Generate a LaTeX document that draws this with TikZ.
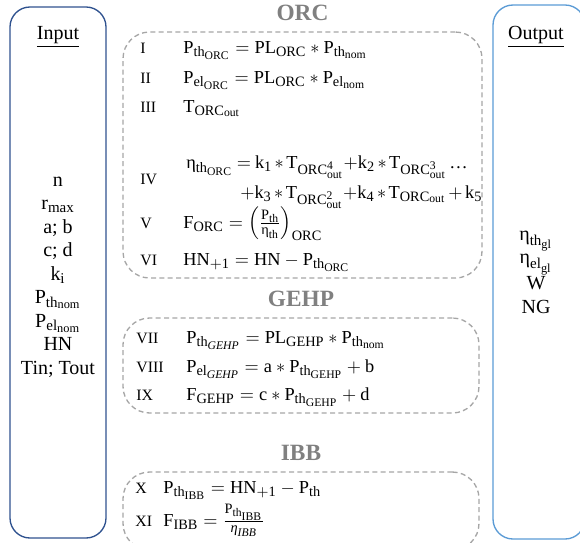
\documentclass[tikz,border=0pt]{standalone}
\usepackage{fontspec}
\setmainfont{Liberation Serif}
\usepackage{amsmath}
\usetikzlibrary{positioning, fit}
\definecolor{inputblue}{RGB}{47, 82, 143}
\definecolor{outputblue}{RGB}{91, 155, 213}
\definecolor{titlegray}{RGB}{128, 128, 128}
\definecolor{dashgray}{RGB}{166, 166, 166}
\DeclareMathSizes{11}{11}{8.6}{7}
\DeclareMathSizes{12}{12}{9}{7.4}
\newcommand{\etaup}{\text{η}}
\newcommand{\etait}{\textit{η}}

\begin{document}
\begin{tikzpicture}[
    x=0.6pt, y=-0.6pt,
    iobox/.style={
      draw, rounded corners=12pt, line width=0.8pt, inner sep=0pt
    },
    eqbox/.style={
      draw=dashgray, dash pattern=on 3pt off 2pt, rounded corners=16pt,
      line width=0.8pt, inner sep=0pt
    },
    title/.style={font=\fontsize{14}{16}\selectfont\bfseries, text=titlegray, inner sep=0pt},
    numeral/.style={anchor=base west, inner sep=0pt, font=\fontsize{9.5}{11}\selectfont},
    eqn/.style={anchor=base west, inner sep=0pt, font=\fontsize{11}{13}\selectfont},
    eqntight/.style={eqn, execute at begin node={\medmuskip=2.5mu\thickmuskip=4mu}},
    varlist/.style={align=center, inner sep=0pt, font=\fontsize{12}{14.1}\selectfont},
]
    \useasboundingbox (0,0) rectangle (580,542);

    % Input and output columns
    \node[iobox, draw=inputblue, fit={(10,7) (106,538)}] (inbox) {};
    \node[iobox, draw=outputblue, fit={(493,5) (585,539)}] (outbox) {};
    \node[varlist] (inhead) at (58,37) {\underline{Input}};
    \node[varlist] (outhead) at (536,37) {\underline{Output}};
    \node[varlist] (inlist) at (58,277)
      {n\\ r$_{\mathrm{max}}$\\ a; b\\ c; d\\ $\mathrm{k_i}$\\ $\mathrm{P_{th_{nom}}}$\\
       $\mathrm{P_{el_{nom}}}$\\ HN\\ Tin; Tout};
    \node[varlist] (outlist) at (536,272)
      {$\etaup_{\mathrm{th_{gl}}}$\\ $\etaup_{\mathrm{el_{gl}}}$\\ W\\ NG};

    % ORC block
    \node[eqbox, fit={(123,32) (482,278)}] (orcbox) {};
    \node[title, above=6pt of orcbox] (orctitle) {ORC};
    \node[numeral] (nI) at (140,53) {I};
    \node[eqn] (eqI) at (183,53) {$\mathrm{P_{th_{ORC}} = PL_{ORC} \ast P_{th_{nom}}}$};
    \node[numeral] (nII) at (140,83) {II};
    \node[eqn] (eqII) at (183,83) {$\mathrm{P_{el_{ORC}} = PL_{ORC} \ast P_{el_{nom}}}$};
    \node[numeral] (nIII) at (140,112) {III};
    \node[eqn] (eqIII) at (183,112) {$\mathrm{T_{ORC_{out}}}$};
    \node[numeral] (nIV) at (140,184) {IV};
    \node[eqntight] (eqIVa) at (186,168)
      {$\etaup_{\mathrm{th_{ORC}}} = \mathrm{k_1 \ast T_{ORC^{4}_{out}}{+}k_2 \ast T_{ORC^{3}_{out}}}\,\text{…}$};
    \node[eqntight] (eqIVb) at (240,198)
      {$\mathrm{{+}k_3 \ast T_{ORC^{2}_{out}}{+}k_4 \ast T_{ORC_{out}} + k_5}$};
    \node[numeral] (nV) at (140,228) {V};
    \node[eqn] (eqV) at (183,228)
      {$\mathrm{F_{ORC}} = \left(\tfrac{\mathrm{P_{th}}}{\etaup_{\mathrm{th}}}\right)_{\mathrm{ORC}}$};
    \node[numeral] (nVI) at (140,265) {VI};
    \node[eqn] (eqVI) at (183,265) {$\mathrm{HN_{+1} = HN - P_{th_{ORC}}}$};

    % GEHP block
    \node[eqbox, fit={(123,318) (479,413)}] (gehpbox) {};
    \node[title, above=6pt of gehpbox] (gehptitle) {GEHP};
    \node[numeral] (nVII) at (136,343) {VII};
    \node[eqn] (eqVII) at (186,343) {$\mathrm{P_{th_{\mathit{GEHP}}} = PL_{GEHP} \ast P_{th_{nom}}}$};
    \node[numeral] (nVIII) at (136,372) {VIII};
    \node[eqn] (eqVIII) at (186,372) {$\mathrm{P_{el_{\mathit{GEHP}}} = a \ast P_{th_{GEHP}} + b}$};
    \node[numeral] (nIX) at (136,400) {IX};
    \node[eqn] (eqIX) at (186,400) {$\mathrm{F_{GEHP} = c \ast P_{th_{GEHP}} + d}$};

    % IBB block
    \node[eqbox, fit={(123,472) (479,550)}] (ibbbox) {};
    \node[title, above=6pt of ibbbox] (ibbtitle) {IBB};
    \node[numeral] (nX) at (135,493) {X};
    \node[eqn] (eqX) at (163,493) {$\mathrm{P_{th_{IBB}} = HN_{+1} - P_{th}}$};
    \node[numeral] (nXI) at (135,526) {XI};
    \node[eqn] (eqXI) at (163,526)
      {$\mathrm{F_{IBB}} = \tfrac{\mathrm{P_{th_{IBB}}}}{\etait_{\mathit{IBB}}}$};
\end{tikzpicture}
\end{document}
